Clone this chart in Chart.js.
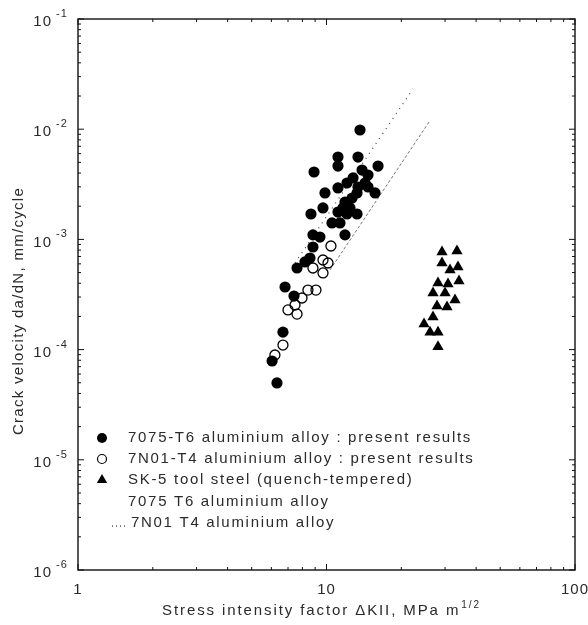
<!DOCTYPE html>
<html lang="en">

<head>
    <meta charset="UTF-8">
    <title>Crack velocity vs stress intensity factor</title>
    <script src="https://cdn.jsdelivr.net/npm/chart.js@4.4.1/dist/chart.umd.min.js"></script>
    <style>
        html, body { margin: 0; padding: 0; background: #fff; }
        .chart-box { position: relative; width: 588px; height: 625px; }
    </style>
</head>

<body>
    <div class="chart-box">
        <canvas id="crackChart"></canvas>
    </div>

    <script>
        // 7075-T6 aluminium alloy, present results (filled circles)
        const k7075 = [13.64, 11.12, 11.12, 13.39, 8.91, 16.12, 13.90, 14.69, 12.79, 12.09,
            14.29, 13.39, 14.69, 11.12, 9.86, 15.68, 13.27, 12.67, 11.87, 11.65,
            12.43, 9.68, 8.66, 11.12, 12.09, 13.27, 10.52, 11.33, 11.87, 8.82,
            9.41, 8.82, 8.58, 8.19, 7.61, 6.81, 7.40, 6.68, 6.04, 6.32];
        const v7075 = [9.83e-3, 5.59e-3, 4.63e-3, 5.59e-3, 4.09e-3, 4.63e-3, 4.26e-3, 3.84e-3, 3.61e-3, 3.25e-3,
            3.25e-3, 2.99e-3, 2.99e-3, 2.93e-3, 2.64e-3, 2.64e-3, 2.64e-3, 2.37e-3, 2.18e-3, 1.93e-3,
            1.93e-3, 1.93e-3, 1.70e-3, 1.77e-3, 1.70e-3, 1.70e-3, 1.41e-3, 1.41e-3, 1.10e-3, 1.10e-3,
            1.05e-3, 8.53e-4, 6.78e-4, 6.24e-4, 5.50e-4, 3.70e-4, 3.06e-4, 1.44e-4, 7.88e-5, 4.98e-5];

        // 7N01-T4 aluminium alloy, present results (open circles)
        const k7n01 = [10.42, 9.68, 10.14, 8.82, 9.68, 8.42, 9.07, 7.97, 7.47, 7.00, 7.61, 6.68, 6.20];
        const v7n01 = [8.71e-4, 6.50e-4, 6.11e-4, 5.50e-4, 4.96e-4, 3.47e-4, 3.47e-4, 2.94e-4, 2.54e-4, 2.29e-4,
            2.10e-4, 1.10e-4, 8.93e-5];

        // SK-5 tool steel (triangles)
        const kSk5 = [29.16, 33.50, 29.16, 31.41, 33.81, 28.10, 30.83, 34.13, 26.83, 29.99,
            27.84, 30.54, 32.89, 26.83, 24.69, 26.10, 28.10, 28.10];
        const vSk5 = [7.68e-4, 7.85e-4, 6.11e-4, 5.28e-4, 5.62e-4, 4.02e-4, 3.94e-4, 4.19e-4, 3.26e-4, 3.26e-4,
            2.49e-4, 2.43e-4, 2.82e-4, 1.98e-4, 1.71e-4, 1.44e-4, 1.44e-4, 1.06e-4];

        // reference lines
        const line7075K = [10.33, 25.85];
        const line7075V = [5.28e-4, 1.16e-2];
        const line7n01K = [7.47, 22.29];
        const line7n01V = [6.11e-4, 2.32e-2];

        // axes
        const xMajor = [1, 10, 100];
        const xMajorText = ['1', '10', '100'];
        const yExponents = [-1, -2, -3, -4, -5, -6];

        const legendLabels = [
            '7075-T6 aluminium alloy : present results',
            '7N01-T4 aluminium alloy : present results',
            'SK-5 tool steel (quench-tempered)',
            '7075 T6 aluminium alloy',
            '7N01 T4 aluminium alloy'
        ];

        const FONT = '"Liberation Sans", Arial, Helvetica, sans-serif';
        const INK = '#2a2a2a';

        function toPoints(xs, ys) {
            return xs.map((x, i) => ({ x: x, y: ys[i] }));
        }

        function minorValues(min, max) {
            const out = [];
            for (let d = min; d < max; d *= 10) {
                for (let m = 2; m <= 9; m++) out.push(d * m);
            }
            return out;
        }

        // frame, inward ticks on all sides, labels, titles and legend
        const decorPlugin = {
            id: 'decor',
            afterDraw(chart) {
                const ctx = chart.ctx;
                const area = chart.chartArea;
                const xs = chart.scales.x;
                const ys = chart.scales.y;
                ctx.save();

                ctx.strokeStyle = '#111';
                ctx.lineWidth = 1.4;
                ctx.strokeRect(area.left, area.top, area.right - area.left, area.bottom - area.top);

                ctx.lineWidth = 1;
                ctx.beginPath();
                xMajor.forEach(v => {
                    const px = xs.getPixelForValue(v);
                    ctx.moveTo(px, area.bottom); ctx.lineTo(px, area.bottom - 6);
                    ctx.moveTo(px, area.top); ctx.lineTo(px, area.top + 6);
                });
                minorValues(1, 100).forEach(v => {
                    const px = xs.getPixelForValue(v);
                    ctx.moveTo(px, area.bottom); ctx.lineTo(px, area.bottom - 3);
                    ctx.moveTo(px, area.top); ctx.lineTo(px, area.top + 3);
                });
                yExponents.forEach(e => {
                    const py = ys.getPixelForValue(Math.pow(10, e));
                    ctx.moveTo(area.left, py); ctx.lineTo(area.left + 6, py);
                    ctx.moveTo(area.right, py); ctx.lineTo(area.right - 6, py);
                });
                minorValues(1e-6, 1e-1).forEach(v => {
                    const py = ys.getPixelForValue(v);
                    ctx.moveTo(area.left, py); ctx.lineTo(area.left + 3, py);
                    ctx.moveTo(area.right, py); ctx.lineTo(area.right - 3, py);
                });
                ctx.stroke();

                ctx.fillStyle = INK;
                ctx.letterSpacing = '1px';

                // y tick labels 10^n
                yExponents.forEach(e => {
                    const py = ys.getPixelForValue(Math.pow(10, e));
                    ctx.font = '15px ' + FONT;
                    ctx.textAlign = 'right';
                    ctx.textBaseline = 'middle';
                    ctx.fillText('10', 52, py + 3);
                    ctx.font = '11px ' + FONT;
                    ctx.textAlign = 'left';
                    ctx.fillText('-' + Math.abs(e), 56, py - 5);
                });

                // x tick labels
                ctx.font = '15px ' + FONT;
                ctx.textAlign = 'center';
                ctx.textBaseline = 'middle';
                xMajor.forEach((v, i) => {
                    ctx.fillText(xMajorText[i], xs.getPixelForValue(v), 590);
                });

                // x title with superscript
                ctx.letterSpacing = '1.9px';
                const xMain = 'Stress intensity factor \u0394KII, MPa m';
                const xSup = '1/2';
                ctx.font = '15px ' + FONT;
                const wMain = ctx.measureText(xMain).width;
                ctx.font = '10px ' + FONT;
                const wSup = ctx.measureText(xSup).width;
                let x0 = 321 - (wMain + wSup) / 2;
                ctx.textAlign = 'left';
                ctx.font = '15px ' + FONT;
                ctx.fillText(xMain, x0, 611);
                ctx.font = '10px ' + FONT;
                ctx.fillText(xSup, x0 + wMain + 1, 605);

                // y title
                ctx.save();
                ctx.translate(19, 311);
                ctx.rotate(-Math.PI / 2);
                ctx.font = '15px ' + FONT;
                ctx.textAlign = 'center';
                ctx.letterSpacing = '1.3px';
                ctx.fillText('Crack velocity da/dN, mm/cycle', 0, 0);
                ctx.restore();

                // legend
                const rows = [438, 459, 480, 502, 523];
                ctx.font = '15px ' + FONT;
                ctx.letterSpacing = '1.7px';
                ctx.textAlign = 'left';
                legendLabels.forEach((t, i) => {
                    ctx.fillText(t, i === 4 ? 131 : 128, rows[i]);
                });
                ctx.fillStyle = '#000';
                ctx.strokeStyle = '#000';
                ctx.beginPath();
                ctx.arc(102, rows[0], 5, 0, Math.PI * 2);
                ctx.fill();
                ctx.lineWidth = 1.2;
                ctx.beginPath();
                ctx.arc(102, rows[1], 4.5, 0, Math.PI * 2);
                ctx.stroke();
                ctx.beginPath();
                ctx.moveTo(102, rows[2] - 6);
                ctx.lineTo(107.2, rows[2] + 3);
                ctx.lineTo(96.8, rows[2] + 3);
                ctx.closePath();
                ctx.fill();
                ctx.lineWidth = 1;
                ctx.setLineDash([1, 3]);
                ctx.beginPath();
                ctx.moveTo(112, rows[4] + 3);
                ctx.lineTo(126, rows[4] + 3);
                ctx.stroke();

                ctx.restore();
            }
        };

        function initializeChart() {
            const ctx = document.getElementById('crackChart').getContext('2d');
            new Chart(ctx, {
                type: 'scatter',
                data: {
                    datasets: [{
                        label: legendLabels[0],
                        data: toPoints(k7075, v7075),
                        pointStyle: 'circle',
                        pointRadius: 5.6,
                        backgroundColor: '#000',
                        borderColor: '#000',
                        borderWidth: 0
                    }, {
                        label: legendLabels[1],
                        data: toPoints(k7n01, v7n01),
                        pointStyle: 'circle',
                        pointRadius: 5,
                        backgroundColor: 'rgba(0,0,0,0)',
                        borderColor: '#000',
                        borderWidth: 1.3
                    }, {
                        label: legendLabels[2],
                        data: toPoints(kSk5, vSk5),
                        pointStyle: 'triangle',
                        pointRadius: 6.5,
                        backgroundColor: '#000',
                        borderColor: '#000',
                        borderWidth: 0
                    }, {
                        label: legendLabels[3],
                        data: toPoints(line7075K, line7075V),
                        showLine: true,
                        pointRadius: 0,
                        borderColor: '#666',
                        borderWidth: 0.9,
                        borderDash: [3, 2]
                    }, {
                        label: legendLabels[4],
                        data: toPoints(line7n01K, line7n01V),
                        showLine: true,
                        pointRadius: 0,
                        borderColor: '#444',
                        borderWidth: 1.2,
                        borderDash: [1, 5]
                    }]
                },
                options: {
                    responsive: true,
                    maintainAspectRatio: false,
                    animation: false,
                    layout: { padding: { left: 78, right: 13, top: 19, bottom: 55 } },
                    plugins: {
                        legend: { display: false },
                        tooltip: { enabled: false }
                    },
                    scales: {
                        x: { type: 'logarithmic', min: 1, max: 100, display: false },
                        y: { type: 'logarithmic', min: 1e-6, max: 1e-1, display: false }
                    }
                },
                plugins: [decorPlugin]
            });
        }

        document.addEventListener('DOMContentLoaded', () => {
            initializeChart();
        });
    </script>
</body>

</html>
